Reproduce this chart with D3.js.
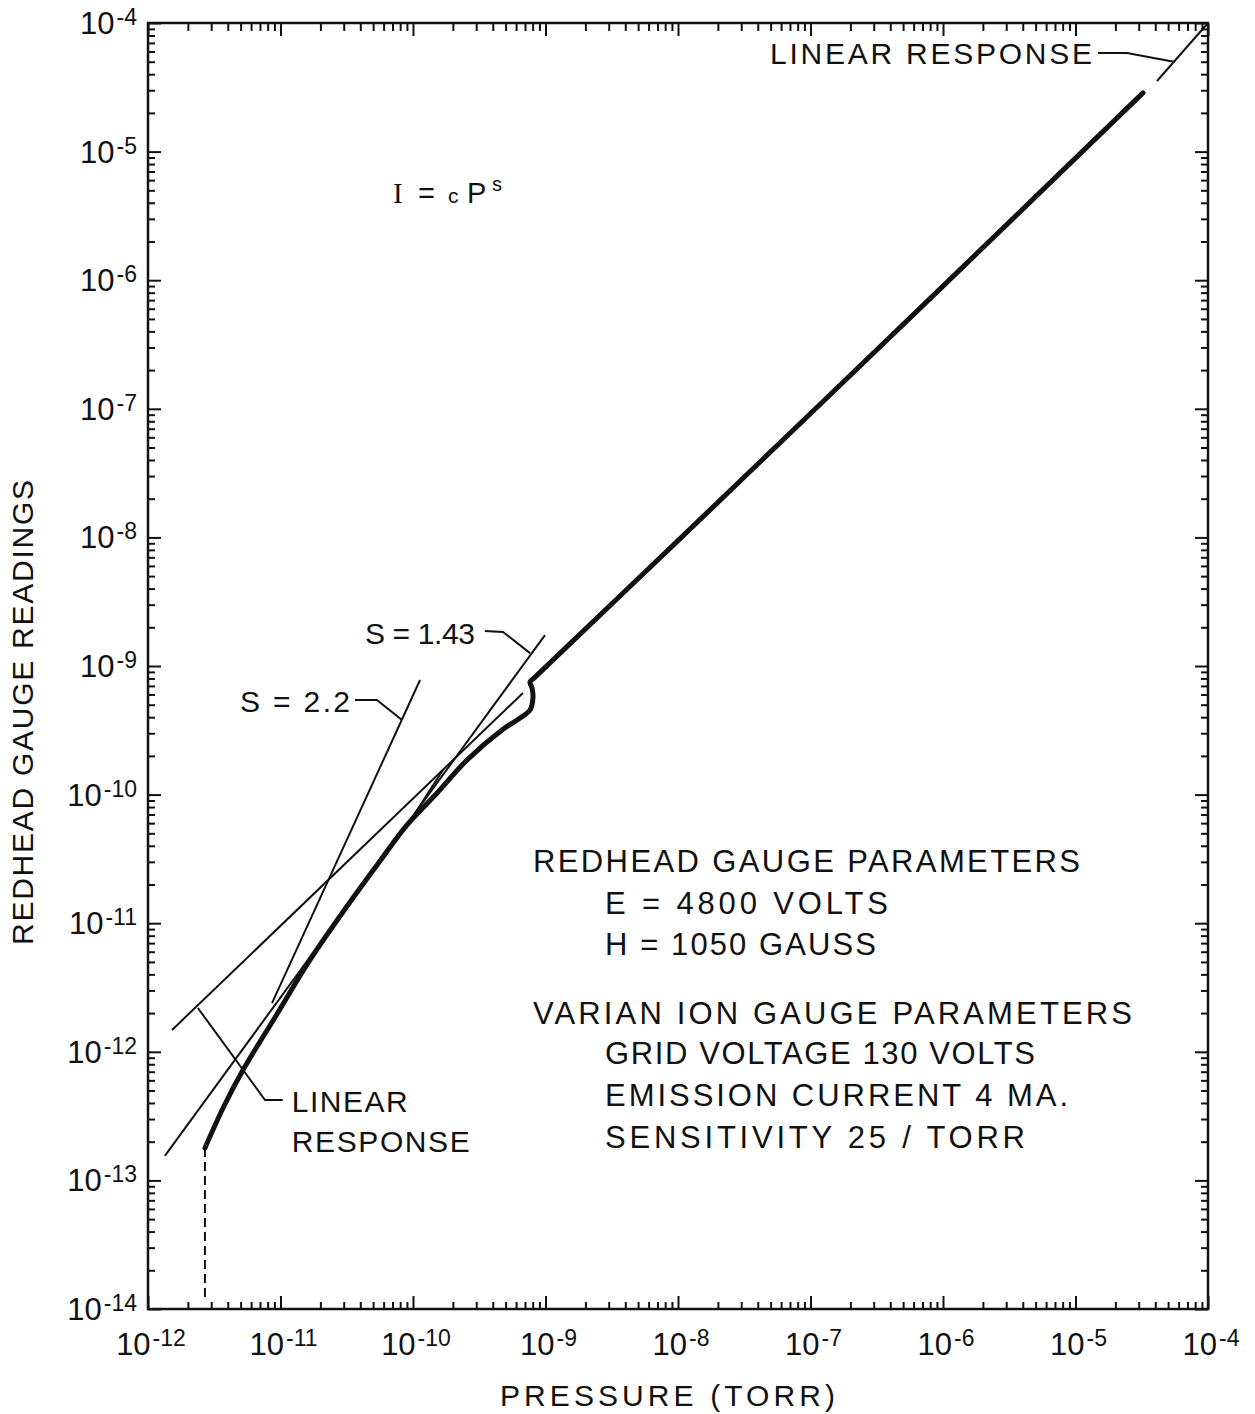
<!DOCTYPE html>
<meta charset="utf-8">
<style>
body { margin: 0; background: #fff; }
svg { display: block; }
text { font-family: "Liberation Sans", Arial, sans-serif; fill: #111; }
</style>
<body>
<script src="https://d3js.org/d3.v7.min.js"></script>
<script>
// decades on each axis (exponents)
var decadesX = [-12, -11, -10, -9, -8, -7, -6, -5, -4];
var decadesY = [-14, -13, -12, -11, -10, -9, -8, -7, -6, -5, -4];

// measured curve: pressure (torr) vs redhead reading
var curveP = [2.69e-12, 3.75e-12, 5.21e-12, 9.08e-12, 1.67e-11, 3.52e-11, 5.64e-11, 9.02e-11,
              1.52e-10, 2.56e-10, 4.70e-10, 6.43e-10, 7.64e-10, 8.05e-10, 7.91e-10, 7.64e-10,
              8.34e-10, 1.0e-8, 1.0e-6, 3.23e-5];
var curveI = [1.79e-13, 3.79e-13, 7.21e-13, 1.85e-12, 5.18e-12, 1.57e-11, 3.05e-11, 5.81e-11,
              1.03e-10, 1.86e-10, 3.18e-10, 3.94e-10, 4.55e-10, 5.74e-10, 6.75e-10, 7.52e-10,
              8.20e-10, 9.44e-9, 9.0e-7, 2.86e-5];
// second thin trace alongside the curve
var traceP = [9.82e-11, 1.68e-10];
var traceI = [6.58e-11, 1.55e-10];
// low pressure cut-off (dashed)
var cutoffP = [2.69e-12, 2.69e-12];
var cutoffI = [1.79e-13, 1.15e-14];

// fitted lines
var linLowP = [1.52e-12, 6.76e-10],  linLowI = [1.48e-12, 6.17e-10];
var s143P = [1.34e-12, 9.91e-10],    s143I = [1.55e-13, 1.74e-9];
var s22P = [8.63e-12, 1.13e-10],     s22I = [2.39e-12, 7.78e-10];
var linHighP = [4.12e-5, 1e-4],      linHighI = [3.54e-5, 1e-4];

// leader lines for labels
var lead22P = [3.65e-11, 5.34e-11, 8.26e-11],   lead22I = [5.44e-10, 5.44e-10, 3.80e-10];
var lead143P = [3.49e-10, 4.78e-10, 7.64e-10],  lead143I = [1.87e-9, 1.84e-9, 1.26e-9];
var leadLowP = [1.04e-11, 7.64e-12, 2.38e-12],  leadLowI = [4.22e-13, 4.22e-13, 2.19e-12];
var leadHighP = [1.48e-5, 2.45e-5, 5.64e-5],    leadHighI = [5.85e-5, 5.85e-5, 4.98e-5];

var paramLines = ["REDHEAD GAUGE PARAMETERS", "E = 4800 VOLTS", "H = 1050 GAUSS",
                  "VARIAN ION GAUGE PARAMETERS", "GRID VOLTAGE 130 VOLTS",
                  "EMISSION CURRENT 4 MA.", "SENSITIVITY 25 / TORR"];
var paramLen = [547, 283, 271, 599, 430, 463, 420];

var width = 1255, height = 1414;
var svg = d3.select("body").append("svg")
    .attr("width", width)
    .attr("height", height);

var pl = 148, pr = 1208, pt = 23, pb = 1309;
var x = d3.scaleLog().domain([1e-12, 1e-4]).range([pl, pr]);
var y = d3.scaleLog().domain([1e-14, 1e-4]).range([pb, pt]);

function minors(decs) {
  var out = [];
  decs.forEach(function(e, i) {
    if (i == decs.length - 1) return;
    for (var m = 2; m <= 9; m++) out.push(m * Math.pow(10, e));
  });
  return out;
}
var majX = decadesX.map(function(e) { return Math.pow(10, e); });
var majY = decadesY.map(function(e) { return Math.pow(10, e); });

function axis(gen, scale, vals, size, tr) {
  svg.append("g")
      .attr("class", "axis")
      .attr("transform", tr)
      .call(gen(scale).tickValues(vals).tickSize(-size).tickFormat(""))
      .call(function(g) { g.select(".domain").remove(); })
      .selectAll("line").attr("stroke", "#111").attr("stroke-width", 2);
}
axis(d3.axisBottom, x, minors(decadesX), 7, "translate(0," + pb + ")");
axis(d3.axisBottom, x, majX, 13, "translate(0," + pb + ")");
axis(d3.axisTop, x, minors(decadesX), 8, "translate(0," + pt + ")");
axis(d3.axisTop, x, majX, 13, "translate(0," + pt + ")");
axis(d3.axisLeft, y, minors(decadesY), 7, "translate(" + pl + ",0)");
axis(d3.axisLeft, y, majY, 13, "translate(" + pl + ",0)");
axis(d3.axisRight, y, minors(decadesY), 7, "translate(" + pr + ",0)");
axis(d3.axisRight, y, majY, 13, "translate(" + pr + ",0)");

svg.append("rect")
    .attr("x", pl).attr("y", pt)
    .attr("width", pr - pl).attr("height", pb - pt)
    .attr("fill", "none").attr("stroke", "#111").attr("stroke-width", 2.5);

// tick labels 10^n
function powText(sel, e) {
  sel.append("tspan").text("10");
  sel.append("tspan").attr("font-size", 23).attr("dy", -9).attr("dx", 2).text(e);
}
decadesY.forEach(function(e) {
  var t = svg.append("text")
      .attr("x", 137).attr("y", y(Math.pow(10, e)) + 11)
      .attr("text-anchor", "end").attr("font-size", 31);
  powText(t, e);
});
decadesX.forEach(function(e) {
  var t = svg.append("text")
      .attr("x", x(Math.pow(10, e)) + 3).attr("y", 1355)
      .attr("text-anchor", "middle").attr("font-size", 31);
  powText(t, e);
});

// axis titles
svg.append("text")
    .attr("x", 500).attr("y", 1406)
    .attr("font-size", 30)
    .attr("textLength", 335).attr("lengthAdjust", "spacing")
    .text("PRESSURE  (TORR)");
svg.append("text")
    .attr("transform", "translate(33,945) rotate(-90)")
    .attr("font-size", 30)
    .attr("textLength", 465).attr("lengthAdjust", "spacing")
    .text("REDHEAD  GAUGE  READINGS");

function pts(P, I) { return P.map(function(p, i) { return [p, I[i]]; }); }
var line = d3.line().x(function(d) { return x(d[0]); }).y(function(d) { return y(d[1]); });
var smooth = d3.line().x(function(d) { return x(d[0]); }).y(function(d) { return y(d[1]); })
    .curve(d3.curveCatmullRom.alpha(0.5));

function thin(P, I) {
  svg.append("path").attr("d", line(pts(P, I)))
      .attr("fill", "none").attr("stroke", "#111").attr("stroke-width", 2);
}
thin(linLowP, linLowI);
thin(s143P, s143I);
thin(s22P, s22I);
thin(linHighP, linHighI);
thin(traceP, traceI);
thin(lead22P, lead22I);
thin(lead143P, lead143I);
thin(leadLowP, leadLowI);
thin(leadHighP, leadHighI);

svg.append("path").attr("d", line(pts(cutoffP, cutoffI)))
    .attr("fill", "none").attr("stroke", "#111").attr("stroke-width", 2)
    .attr("stroke-dasharray", "9,5");

svg.append("path").attr("d", smooth(pts(curveP, curveI)))
    .attr("fill", "none").attr("stroke", "#111").attr("stroke-width", 5)
    .attr("stroke-linecap", "round").attr("stroke-linejoin", "round");

// labels
function label(txt, xx, yy, len, anchor) {
  return svg.append("text").attr("x", xx).attr("y", yy)
      .attr("font-size", 30).attr("text-anchor", anchor || "start")
      .attr("textLength", len).attr("lengthAdjust", "spacing")
      .text(txt);
}
label("S = 2.2", x(lead22P[0]) - 115, y(lead22I[0]) + 12, 110);
label("S = 1.43", x(lead143P[0]) - 120, y(lead143I[0]) + 13, 110);
label("LINEAR", x(leadLowP[0]) + 9, y(leadLowI[0]) + 12, 116);
label("RESPONSE", x(leadLowP[0]) + 9, y(leadLowI[0]) + 52, 178);
label("LINEAR  RESPONSE", x(leadHighP[0]) - 328, y(leadHighI[0]) + 11, 322);

// I = cP^s
var f = svg.append("text").attr("y", 203).attr("font-size", 29);
f.append("tspan").attr("x", 393).attr("font-family", "Liberation Serif").text("I");
f.append("tspan").attr("x", 418).text("=");
f.append("tspan").attr("x", 448).attr("font-size", 21).text("c");
f.append("tspan").attr("x", 467).text("P");
f.append("tspan").attr("x", 492).attr("y", 191).attr("font-size", 20).text("s");

var base = [872, 914, 955, 1024, 1064, 1106, 1148];
var indent = [533, 605, 605, 533, 605, 605, 605];
paramLines.forEach(function(s, i) {
  label(s, indent[i], base[i], paramLen[i]).attr("font-size", 31);
});
</script>
</body>
